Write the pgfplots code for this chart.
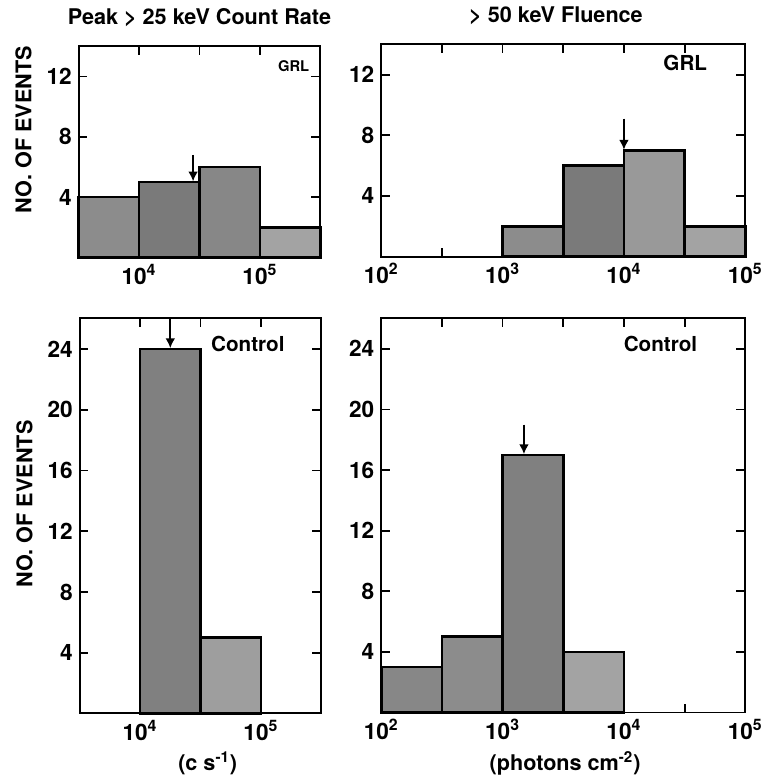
\documentclass[border=0pt]{standalone}
\usepackage{fontspec}
\setmainfont{TeX Gyre Heros}
\usepackage{pgfplots}
\pgfplotsset{compat=1.18}
\usetikzlibrary{arrows.meta}

% one pixel of the reference = 0.5pt
\pgfplotsset{every axis/.append style={
    scale only axis,
    ymin=0,
    axis line style={line width=1pt},
    tick style={line width=0.9pt, black},
    major tick length=4.5pt,
    minor tick length=0pt,
    tick align=inside,
    /pgf/number format/assume math mode=true,
    tick label style={font=\fontsize{11.5}{12}\selectfont\bfseries},
    ylabel style={font=\fontsize{11}{12}\selectfont\bfseries, anchor=center},
    xlabel style={font=\fontsize{11}{12}\selectfont\bfseries},
    title style={font=\fontsize{11}{12}\selectfont\bfseries},
    clip=false,
}}
\tikzset{binbox/.style={draw=black, line width=1.3pt, fill=#1}}
\newcommand{\tl}[1]{\textbf{10}\textsuperscript{\textbf{#1}}}

\begin{document}
\begin{tikzpicture}
\path (0,0) rectangle (391pt,-389pt);

% top left: GRL count rate
\begin{axis}[xmode=log,
  at={(40pt,-126pt)}, anchor=south west,
  width=123pt, height=107.5pt,
  xmin=3162.28, xmax=316228, ymax=14,
  xtick={1e4,1e5}, xticklabels={\tl{4},\tl{5}},
  extra x ticks={3162.28,31622.8,316228}, extra x tick labels={},
  ytick={4,8,12},
  ylabel={NO. OF EVENTS},
  ylabel style={at={(axis description cs:-0.228,0.605)}},
  title={Peak > 25 keV Count Rate},
  title style={at={(axis description cs:0.5,1.08)}, anchor=center},
]
\addplot[binbox=black!45] coordinates {(3162.28,0) (3162.28,4) (10000,4) (10000,0)} --cycle;
\addplot[binbox=black!52] coordinates {(10000,0) (10000,5) (31622.8,5) (31622.8,0)} --cycle;
\addplot[binbox=black!47] coordinates {(31622.8,0) (31622.8,6) (100000,6) (100000,0)} --cycle;
\addplot[binbox=black!36] coordinates {(100000,0) (100000,2) (316228,2) (316228,0)} --cycle;
\draw[-{Latex[length=5pt,width=5pt]}, line width=0.9pt] (axis cs:28000,6.8) -- (axis cs:28000,5.05);
\node[font=\fontsize{7.5}{9}\selectfont\bfseries] at (axis cs:190000,12.7) {GRL};
\end{axis}

% top right: GRL fluence
\begin{axis}[xmode=log,
  at={(194pt,-125.5pt)}, anchor=south west,
  width=185.25pt, height=108pt,
  xmin=100, xmax=100000, ymax=14,
  xtick={100,1000,10000,100000}, xticklabels={\tl{2},\tl{3},\tl{4},\tl{5}},
  extra x ticks={316.228,3162.28,31622.8}, extra x tick labels={},
  ytick={4,8,12},
  title={> 50 keV Fluence},
  title style={at={(axis description cs:0.48,1.08)}, anchor=center},
]
\addplot[binbox=black!45] coordinates {(1000,0) (1000,2) (3162.28,2) (3162.28,0)} --cycle;
\addplot[binbox=black!52] coordinates {(3162.28,0) (3162.28,6) (10000,6) (10000,0)} --cycle;
\addplot[binbox=black!40] coordinates {(10000,0) (10000,7) (31622.8,7) (31622.8,0)} --cycle;
\addplot[binbox=black!36] coordinates {(31622.8,0) (31622.8,2) (100000,2) (100000,0)} --cycle;
\draw[-{Latex[length=5pt,width=5pt]}, line width=0.9pt] (axis cs:10000,9.1) -- (axis cs:10000,7.05);
\node[font=\fontsize{10.5}{12}\selectfont\bfseries] at (axis cs:32000,12.8) {GRL};
\end{axis}

% bottom left: control count rate
\begin{axis}[xmode=log,
  at={(40.5pt,-358pt)}, anchor=south west,
  width=123pt, height=201pt,
  xmin=3162.28, xmax=316228, ymax=26,
  xtick={1e4,1e5}, xticklabels={\tl{4},\tl{5}},
  extra x ticks={3162.28,31622.8,316228}, extra x tick labels={},
  ytick={4,8,12,16,20,24},
  ylabel={NO. OF EVENTS},
  ylabel style={at={(axis description cs:-0.228,0.53)}},
  xlabel={(c s\textsuperscript{-1})},
  xlabel style={at={(axis description cs:0.53,-0.127)}, anchor=center},
]
\addplot[binbox=black!50] coordinates {(10000,0) (10000,24) (31622.8,24) (31622.8,0)} --cycle;
\addplot[binbox=black!38] coordinates {(31622.8,0) (31622.8,5) (100000,5) (100000,0)} --cycle;
\draw[-{Latex[length=5pt,width=5pt]}, line width=0.9pt] (axis cs:17800,26) -- (axis cs:17800,24.05);
\node[font=\fontsize{10.5}{12}\selectfont\bfseries] at (axis cs:78000,24.3) {Control};
\end{axis}

% bottom right: control fluence
\begin{axis}[xmode=log,
  at={(194pt,-357.5pt)}, anchor=south west,
  width=185.25pt, height=200.5pt,
  xmin=100, xmax=100000, ymax=26,
  xtick={100,1000,10000,100000}, xticklabels={\tl{2},\tl{3},\tl{4},\tl{5}},
  extra x ticks={316.228,3162.28,31622.8}, extra x tick labels={},
  ytick={4,8,12,16,20,24},
  xlabel={(photons cm\textsuperscript{-2})},
  xlabel style={at={(axis description cs:0.505,-0.13)}, anchor=center},
]
\addplot[binbox=black!47] coordinates {(100,0) (100,3) (316.228,3) (316.228,0)} --cycle;
\addplot[binbox=black!45] coordinates {(316.228,0) (316.228,5) (1000,5) (1000,0)} --cycle;
\addplot[binbox=black!50] coordinates {(1000,0) (1000,17) (3162.28,17) (3162.28,0)} --cycle;
\addplot[binbox=black!36] coordinates {(3162.28,0) (3162.28,4) (10000,4) (10000,0)} --cycle;
\draw[-{Latex[length=5pt,width=5pt]}, line width=0.9pt] (axis cs:1500,19) -- (axis cs:1500,17.05);
\node[font=\fontsize{10.5}{12}\selectfont\bfseries] at (axis cs:20000,24.3) {Control};
\end{axis}
\end{tikzpicture}
\end{document}
